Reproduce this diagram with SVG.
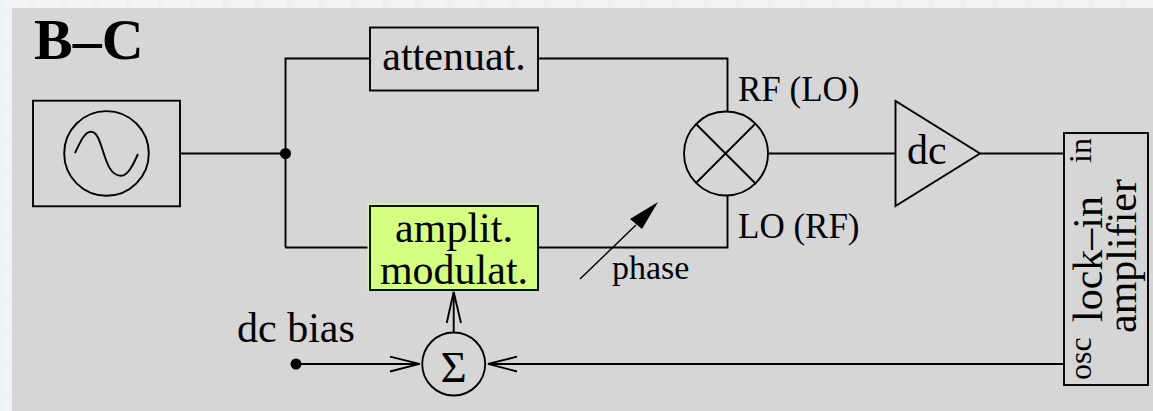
<svg xmlns="http://www.w3.org/2000/svg" width="1153" height="411" viewBox="0 0 1153 411">
<style>
.l{fill:none;stroke:#000;stroke-width:1.9}
.t{font-family:"Liberation Serif","Times New Roman",serif;fill:#000}
.s{font-size:35px}
.o{font-size:32px}
.m{font-size:42px}
</style>
<defs>
<pattern id="g" width="32.100" height="32" patternUnits="userSpaceOnUse" x="0" y="12"><rect width="33" height="32" fill="#f3f3f3"/><path d="M0 0V32M32.100 0V32M0 0H33M0 32H33" stroke="#e9f2f5" stroke-width="5"/></pattern>
</defs>
<rect width="1153" height="411" fill="url(#g)"/>
<rect x="12" y="8" width="1141" height="403" fill="#d6d6d6"/>
<text class="t" x="34" y="59" font-size="58" font-weight="bold">B–C</text>
<g id="connectors" class="l">
<path d="M180 153.500H285.500M285.500 247.500V58.500H370M285.500 247.500H370M538 58.500H727.500V112M538 247.500H727.500V196M769 153.500H895M980 153.500H1064M1064 364H488M294 364H420M453.700 332V292"/>
<path d="M390 356.700L419.500 363.800L390 371.500M517 356.700L488 363.800L517 371.500M446.700 323L453.700 292L461 323"/>
<path d="M580 279L636 225" stroke-width="1.400"/>
<path d="M658 202L630 219L642 229Z" fill="#000" stroke="none"/>
</g>
<circle cx="285.500" cy="153.500" r="5.500"/>
<circle cx="296" cy="364" r="5.500"/>
<g id="source"><rect class="l" x="33" y="100.700" width="147" height="105.600"/><circle class="l" cx="106.500" cy="153.400" r="42.300"/><path class="l" d="M75 153C81 140 85 131.700 91 131.700C104 131.700 102 175.700 121 175.700C128 175.700 133 165 138 154"/></g>
<g id="attenuator"><rect class="l" x="370" y="27.500" width="168" height="63"/><text class="t m" x="454" y="70" text-anchor="middle">attenuat.</text></g>
<g id="modulator"><rect x="367.500" y="203.500" width="171.500" height="87.500" fill="#d4ff80"/><rect class="l" x="370" y="206" width="168" height="84" fill="#ccff6e"/><text class="t m" x="454" y="242" text-anchor="middle">amplit.</text><text class="t m" x="454" y="284" text-anchor="middle">modulat.</text></g>
<g id="mixer"><circle class="l" cx="726" cy="153.500" r="42"/><path class="l" d="M696 124L756 184M755 124L696 183"/><text class="t s" x="738" y="101">RF (LO)</text><text class="t s" x="738" y="238">LO (RF)</text></g>
<g id="dc-amp"><path class="l" d="M895.500 101V206L980 153.500Z"/><text class="t m" x="907" y="164">dc</text></g>
<g id="lock-in"><rect class="l" x="1064" y="133" width="84" height="252"/>
<text class="t o" transform="translate(1090.500 163) rotate(-90)">in</text>
<text class="t o" transform="translate(1090.500 380) rotate(-90)">osc</text>
<text class="t m" transform="translate(1101.500 322) rotate(-90)">lock–in</text>
<text class="t m" transform="translate(1135.500 333) rotate(-90)">amplifier</text></g>
<g id="sum"><circle class="l" cx="453.700" cy="364" r="31.500"/><text class="t" font-size="45" x="453.700" y="381.500" text-anchor="middle">Σ</text></g>
<text class="t" font-size="34" x="612" y="279">phase</text>
<text class="t m" x="237" y="342">dc bias</text>
</svg>
